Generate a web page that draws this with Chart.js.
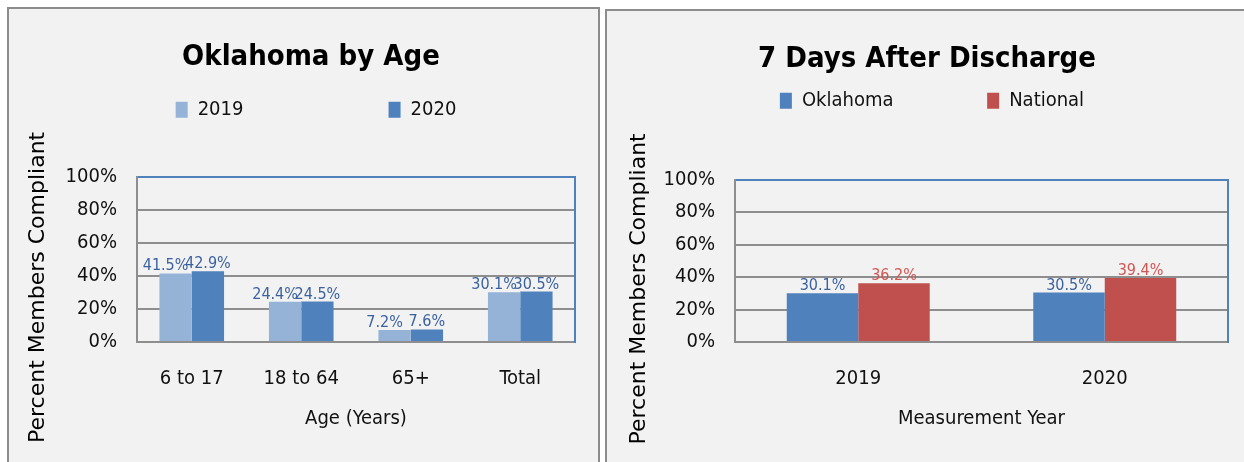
<!DOCTYPE html>
<html>
<head>
<meta charset="utf-8">
<script src="https://cdn.jsdelivr.net/npm/chart.js@4.4.0/dist/chart.umd.min.js"></script>
<style>
  html, body { margin: 0; padding: 0; background: #fff; }
  body { width: 1244px; height: 462px; position: relative; overflow: hidden; }
  .panel { position: absolute; background: #f2f2f2; border: 2px solid #8c8c8c; box-sizing: border-box; }
  #panelAge { left: 7px; top: 7px; width: 593px; height: 480px; }
  #panelDays { left: 605px; top: 9px; width: 660px; height: 480px; }
  canvas { position: absolute; top: 0; }
  #ageChart { left: 0; }
  #daysChart { left: 603px; }
</style>
</head>
<body>
<div class="panel" id="panelAge"></div>
<div class="panel" id="panelDays"></div>
<canvas id="ageChart" width="603" height="462"></canvas>
<canvas id="daysChart" width="641" height="462"></canvas>
<script>
// values
const ageCategories = ['6 to 17', '18 to 64', '65+', 'Total'];
const age2019 = [41.5, 24.4, 7.2, 30.1];
const age2020 = [42.9, 24.5, 7.6, 30.5];

const yearCategories = ['2019', '2020'];
const oklahomaRates = [30.1, 30.5];
const nationalRates = [36.2, 39.4];

const percentTicks = [0, 20, 40, 60, 80, 100];

const NARROW = '"DejaVu Sans Condensed", "Liberation Sans Narrow", sans-serif';
const WIDE = '"DejaVu Sans", Verdana, sans-serif';
const BLUE_LINE = '#4f81bd';
const GRID = '#8e8e8e';
const NB = '\u00a0';

// labels above each bar
const valueLabels = {
  id: 'valueLabels',
  afterDatasetsDraw(chart, args, opts) {
    const ctx = chart.ctx;
    ctx.save();
    ctx.font = opts.font;
    ctx.textAlign = 'center';
    ctx.textBaseline = 'alphabetic';
    chart.data.datasets.forEach((ds, i) => {
      const meta = chart.getDatasetMeta(i);
      ctx.fillStyle = opts.colors[i];
      meta.data.forEach((bar, j) => {
        ctx.fillText(ds.data[j].toFixed(1) + '%', bar.x + (opts.dx[i] || 0), bar.y - opts.gap);
      });
    });
    ctx.restore();
  }
};

// nudge title / legend sideways (the original is not centred on the plot)
const boxShift = {
  id: 'boxShift',
  afterLayout(chart, args, opts) {
    if (opts.title && chart.titleBlock) {
      chart.titleBlock.left += opts.title;
      chart.titleBlock.right += opts.title;
    }
    if (opts.legend && chart.legend) {
      chart.legend.left += opts.legend;
      chart.legend.right += opts.legend;
    }
  }
};

function makeChart(id, cfg) {
  const spacedLegend = (chart) => {
    const items = Chart.defaults.plugins.legend.labels.generateLabels(chart);
    items[0].text += NB.repeat(cfg.legendGap);
    return items;
  };
  return new Chart(document.getElementById(id), {
    type: 'bar',
    data: {
      labels: cfg.labels,
      datasets: cfg.series.map(s => ({
        label: s.label,
        data: s.data,
        backgroundColor: s.color,
        borderWidth: 0,
        categoryPercentage: cfg.catPct,
        barPercentage: 1
      }))
    },
    plugins: [valueLabels, boxShift],
    options: {
      responsive: false,
      animation: false,
      events: [],
      layout: { padding: { left: cfg.padLeft, right: cfg.padRight, top: 0, bottom: 0 } },
      plugins: {
        title: {
          display: true,
          text: cfg.title,
          color: '#000',
          font: { family: NARROW, size: 29, weight: 'bold', lineHeight: 1.2 },
          padding: { top: cfg.titleTop, bottom: cfg.titleBottom }
        },
        legend: {
          display: true,
          position: 'top',
          labels: {
            boxWidth: 12,
            boxHeight: 16,
            padding: 8,
            color: '#111',
            font: { family: NARROW, size: 20 },
            generateLabels: spacedLegend
          }
        },
        subtitle: {
          // empty spacer between legend and plot
          display: true,
          text: '',
          weight: 500,
          font: { size: 1, lineHeight: 1 },
          padding: { top: cfg.spacer, bottom: 0 }
        },
        tooltip: { enabled: false },
        valueLabels: {
          font: '16px ' + NARROW,
          colors: cfg.series.map(s => s.labelColor),
          dx: cfg.labelDx,
          gap: 3
        },
        boxShift: cfg.shift
      },
      scales: {
        x: {
          grid: { display: false, drawTicks: false },
          border: { display: true, color: GRID, width: 2 },
          ticks: { color: '#111', padding: 25, font: { family: NARROW, size: 20, lineHeight: 1.2 } },
          title: {
            display: true,
            text: cfg.xTitle,
            color: '#111',
            font: { family: NARROW, size: 20, lineHeight: 1.2 },
            padding: { top: 10, bottom: 31 }
          },
          afterFit: (scale) => { scale.height = 120; }
        },
        y: {
          min: 0,
          max: 100,
          afterBuildTicks: (scale) => { scale.ticks = percentTicks.map(v => ({ value: v })); },
          grid: {
            drawTicks: false,
            lineWidth: 2,
            color: (c) => (c.tick && c.tick.value === 100 ? BLUE_LINE : GRID)
          },
          border: { display: true, color: GRID, width: 2 },
          ticks: {
            color: '#111',
            padding: 20,
            font: { family: NARROW, size: 20 },
            callback: (v) => v + '%'
          },
          title: {
            display: true,
            text: 'Percent Members Compliant' + NB.repeat(8),
            color: '#000',
            font: { family: WIDE, size: 22, lineHeight: 1.2 },
            padding: { top: cfg.yTitlePad, bottom: 0 }
          },
          afterFit: (scale) => { scale.width = cfg.yWidth; }
        },
        edge: {
          // right edge of the plot frame
          position: 'right',
          display: true,
          grid: { display: false, drawTicks: false },
          border: { display: true, color: BLUE_LINE, width: 2 },
          ticks: { display: false },
          afterFit: (scale) => { scale.width = 0; }
        }
      }
    }
  });
}

makeChart('ageChart', {
  title: 'Oklahoma by Age',
  labels: ageCategories,
  series: [
    { label: '2019', data: age2019, color: '#95b3d7', labelColor: '#3b62a0' },
    { label: '2020', data: age2020, color: '#4f81bd', labelColor: '#3b62a0' }
  ],
  xTitle: 'Age (Years)',
  catPct: 0.59,
  padLeft: 17,
  padRight: 28,
  yWidth: 120,
  yTitlePad: 8,
  titleTop: 40,
  titleBottom: 17,
  spacer: 46,
  legendGap: 24,
  labelDx: [-10, 0],
  shift: { title: 15, legend: 20 }
});

makeChart('daysChart', {
  title: '7 Days After Discharge',
  labels: yearCategories,
  series: [
    { label: 'Oklahoma', data: oklahomaRates, color: '#4f81bd', labelColor: '#3b62a0' },
    { label: 'National', data: nationalRates, color: '#c0504d', labelColor: '#d35552' }
  ],
  xTitle: 'Measurement Year',
  catPct: 0.58,
  padLeft: 23,
  padRight: 16,
  yWidth: 109,
  yTitlePad: 0,
  titleTop: 42,
  titleBottom: 6,
  spacer: 58,
  legendGap: 15,
  labelDx: [0, 0],
  shift: { title: 0, legend: 5 }
});
</script>
</body>
</html>
